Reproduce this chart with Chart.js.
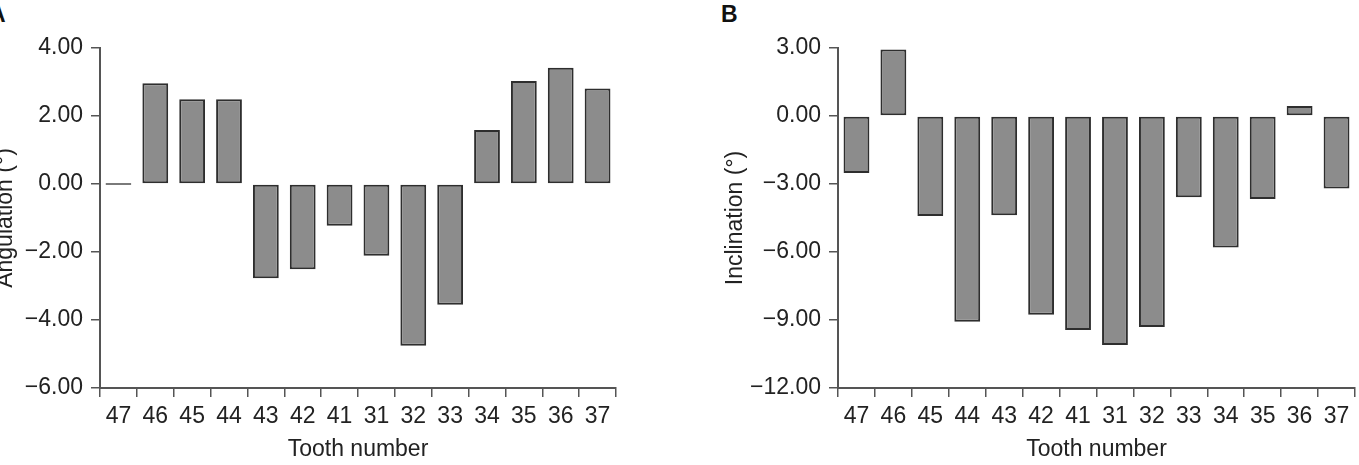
<!DOCTYPE html>
<html lang="en">
<head>
<meta charset="UTF-8" />
<title>Tooth angulation and inclination</title>
<script src="https://cdn.jsdelivr.net/npm/chart.js@4/dist/chart.umd.min.js"></script>
<style>
  body { margin: 0; background: #fff; width: 1359px; height: 465px; overflow: hidden; position: relative; }
  canvas { position: absolute; top: 0; }
  #chartA { left: -20px; }
  #chartB { left: 700px; }
  .panel { position: absolute; font: bold 23px "Liberation Sans", Arial, sans-serif; color: #111; }
</style>
</head>
<body>
<div class="panel" style="left:-11px; top:1px;">A</div>
<div class="panel" style="left:721px; top:1px;">B</div>
<canvas id="chartA" width="660" height="465"></canvas>
<canvas id="chartB" width="659" height="465"></canvas>
<script>
const teeth = ["47", "46", "45", "44", "43", "42", "41", "31", "32", "33", "34", "35", "36", "37"];
const angulation = [0, 2.96, 2.49, 2.49, -2.77, -2.51, -1.23, -2.11, -4.76, -3.55, 1.59, 3.03, 3.42, 2.81];
const inclination = [-2.51, 2.93, -4.41, -9.08, -4.38, -8.77, -9.44, -10.1, -9.31, -3.58, -5.8, -3.66, 0.44, -3.2];

Chart.defaults.font.family = '"Liberation Sans", Arial, sans-serif';
Chart.defaults.font.size = 23;
Chart.defaults.color = "#222";

const axisColor = "#555";

function fmt(v) {
  return (v < 0 ? "\u2212" : "") + Math.abs(v).toFixed(2);
}

function makeChart(id, values, yTitle, yMin, yMax, step, yWidth, titlePad, padRight) {
  return new Chart(document.getElementById(id).getContext("2d"), {
    type: "bar",
    data: {
      labels: teeth,
      datasets: [{
        data: values,
        backgroundColor: "#8c8c8c",
        borderColor: (c) => (c.raw === 0 ? "#7a7a7a" : "#2e2e2e"),
        borderWidth: 2,
        borderSkipped: false,
        minBarLength: 2,
        barPercentage: 0.7,
        categoryPercentage: 1,
      }],
    },
    options: {
      responsive: false,
      animation: false,
      layout: { padding: { top: 48, right: padRight, left: 0, bottom: 0 } },
      plugins: { legend: { display: false }, tooltip: { enabled: false } },
      scales: {
        x: {
          grid: { offset: true, drawOnChartArea: false, color: axisColor, lineWidth: 1.5, tickLength: 9 },
          border: { color: axisColor, width: 2 },
          ticks: { padding: 6, maxRotation: 0, autoSkip: false },
          title: { display: true, text: "Tooth number", padding: { top: 0, bottom: 2 } },
          afterFit: (s) => { s.height = 77; },
        },
        y: {
          min: yMin,
          max: yMax,
          grid: { drawOnChartArea: false, color: axisColor, lineWidth: 1.5, tickLength: 9 },
          border: { color: axisColor, width: 2 },
          ticks: { stepSize: step, padding: 8, callback: fmt },
          title: { display: true, text: yTitle, padding: { top: titlePad, bottom: 0 } },
          afterFit: (s) => { s.width = yWidth; },
        },
      },
    },
  });
}

makeChart("chartA", angulation, "Angulation (\u00b0)", -6, 4, 2, 120, 12, 24);
makeChart("chartB", inclination, "Inclination (\u00b0)", -12, 3, 3, 138, 22, 4);
</script>
</body>
</html>
